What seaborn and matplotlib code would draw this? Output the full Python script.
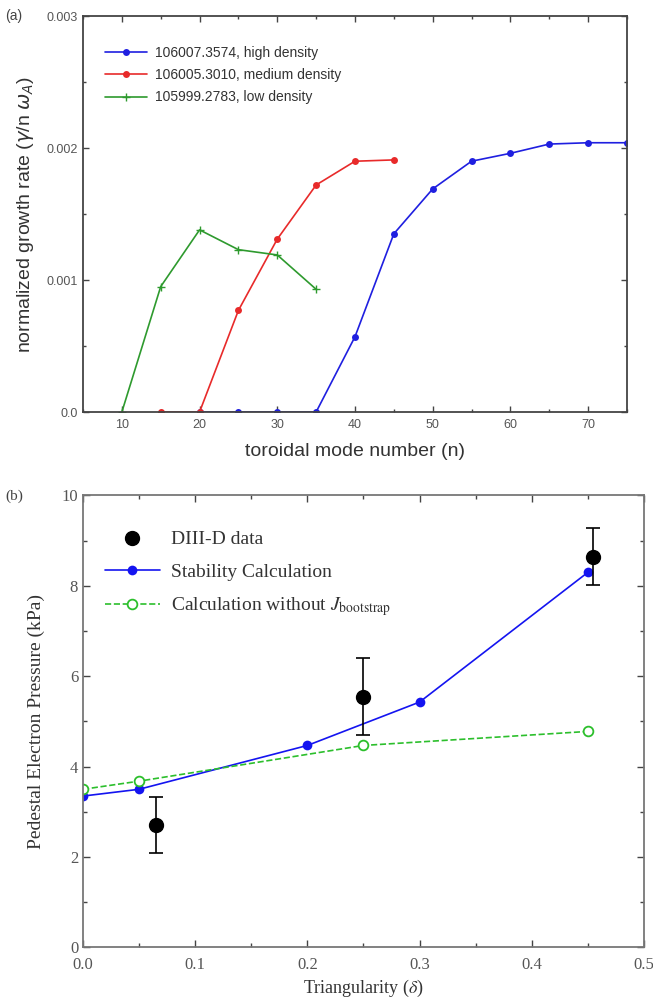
import numpy as np
import pandas as pd
import seaborn as sns
import matplotlib
matplotlib.use("Agg")
import matplotlib.pyplot as plt
from matplotlib.lines import Line2D
from matplotlib.ticker import MultipleLocator, FixedLocator, FixedFormatter, FormatStrFormatter

# ---- panel (a): growth rate vs toroidal mode number ----
n_high = [20, 25, 30, 35, 40, 45, 50, 55, 60, 65, 70, 75]
g_high = [0.0, 0.0, 0.0, 0.0, 0.00057, 0.00135, 0.00169, 0.00190, 0.00196, 0.00203, 0.00204, 0.00204]
n_med = [15, 20, 25, 30, 35, 40, 45]
g_med = [0.0, 0.0, 0.00077, 0.00131, 0.00172, 0.00190, 0.00191]
n_low = [10, 15, 20, 25, 30, 35]
g_low = [0.0, 0.00095, 0.00138, 0.00123, 0.00119, 0.00093]
labels_a = ["106007.3574, high density", "106005.3010, medium density", "105999.2783, low density"]
ytick_vals_a = [0.0, 0.001, 0.002, 0.003]
ytick_text_a = ["0.0", "0.001", "0.002", "0.003"]

# ---- panel (b): pedestal pressure vs triangularity ----
tri_data = [0.065, 0.25, 0.455]
p_data = [2.7, 5.55, 8.65]
p_err = [0.62, 0.85, 0.62]
tri_stab = [0.0, 0.05, 0.2, 0.3, 0.45]
p_stab = [3.35, 3.5, 4.47, 5.43, 8.3]
tri_noboot = [0.0, 0.05, 0.25, 0.45]
p_noboot = [3.5, 3.68, 4.47, 4.78]
labels_b = ["DIII-D data", "Stability Calculation", r"Calculation without $J_{\rm bootstrap}$"]

sns.set_theme(style="ticks")
plt.rcParams["font.family"] = ["Liberation Sans", "DejaVu Sans"]
plt.rcParams["mathtext.fontset"] = "dejavusans"

fig = plt.figure(figsize=(6.53, 10.02), dpi=100)

spine_col = "#444444"
tick_col = "#555555"

# ---------------- panel (a) ----------------
ax1 = fig.add_axes([0.1271, 0.5888, 0.8330, 0.3952])
blue_a, red_a, green_a = "#1f1fe0", "#e82a2a", "#2e9a2e"
df_h = pd.DataFrame({"n": n_high, "g": g_high})
df_m = pd.DataFrame({"n": n_med, "g": g_med})
df_l = pd.DataFrame({"n": n_low, "g": g_low})
sns.lineplot(data=df_h, x="n", y="g", ax=ax1, color=blue_a, marker="o", markersize=5,
             markeredgewidth=0, linewidth=1.2, label=labels_a[0])
sns.lineplot(data=df_m, x="n", y="g", ax=ax1, color=red_a, marker="o", markersize=5,
             markeredgewidth=0, linewidth=1.2, label=labels_a[1])
sns.lineplot(data=df_l, x="n", y="g", ax=ax1, color=green_a, marker="+", markersize=6,
             markeredgecolor=green_a, markeredgewidth=1.0, linewidth=1.2, label=labels_a[2])
ax1.set_xlim(5, 75)
ax1.set_ylim(0, 0.003)
ax1.xaxis.set_major_locator(MultipleLocator(10))
ax1.xaxis.set_minor_locator(MultipleLocator(5))
ax1.yaxis.set_major_locator(FixedLocator(ytick_vals_a))
ax1.yaxis.set_major_formatter(FixedFormatter(ytick_text_a))
ax1.yaxis.set_minor_locator(MultipleLocator(0.0005))
ax1.tick_params(which="both", direction="in", top=True, right=True, color=spine_col,
                labelsize=9, labelcolor=tick_col)
ax1.tick_params(which="major", length=4, width=1)
ax1.tick_params(which="minor", length=2.5, width=1)
ax1.tick_params(axis="x", pad=5)
for s in ax1.spines.values():
    s.set_color(spine_col)
    s.set_linewidth(1.3)
ax1.set_xlabel("toroidal mode number (n)", fontsize=14, color="#333333", labelpad=9)
ax1.set_ylabel(r"normalized growth rate ($\gamma$/n $\omega_A$)", fontsize=14,
               color="#333333", labelpad=8)
leg1 = ax1.legend(loc="upper left", bbox_to_anchor=(0.015, 0.96), frameon=False,
                  fontsize=10, handlelength=3.0, handletextpad=0.6, labelspacing=0.6,
                  borderaxespad=0.6)
for t in leg1.get_texts():
    t.set_color("#333333")
fig.text(0.008, 0.984, "(a)", fontsize=10, color="#444444", va="center", ha="left")

# ---------------- panel (b) ----------------
ax2 = fig.add_axes([0.1271, 0.0544, 0.8591, 0.4511])
serif = ["Liberation Serif", "DejaVu Serif"]
blue_b, green_b = "#1414f0", "#2cbf2c"
df_s = pd.DataFrame({"d": tri_stab, "p": p_stab})
df_n = pd.DataFrame({"d": tri_noboot, "p": p_noboot})
ax2.errorbar(tri_data, p_data, yerr=p_err, fmt="o", color="black", markersize=10,
             elinewidth=1.2, capsize=5, capthick=1.2, zorder=5)
sns.lineplot(data=df_s, x="d", y="p", ax=ax2, color=blue_b, marker="o", markersize=7,
             markeredgewidth=0, linewidth=1.2, label=labels_b[1])
sns.lineplot(data=df_n, x="d", y="p", ax=ax2, color=green_b, marker="o", markersize=7,
             markerfacecolor="white", markeredgecolor=green_b, markeredgewidth=1.3,
             linewidth=1.2, linestyle="--", dashes=(5, 3), label=labels_b[2])
ax2.set_xlim(0, 0.5)
ax2.set_ylim(0, 10)
ax2.xaxis.set_major_locator(MultipleLocator(0.1))
ax2.xaxis.set_minor_locator(MultipleLocator(0.05))
ax2.yaxis.set_major_locator(MultipleLocator(2))
ax2.yaxis.set_minor_locator(MultipleLocator(1))
ax2.xaxis.set_major_formatter(FormatStrFormatter("%.1f"))
ax2.tick_params(which="both", direction="in", top=True, right=True, color=spine_col,
                labelsize=12, labelcolor="#555555")
ax2.tick_params(which="major", length=5, width=1)
ax2.tick_params(which="minor", length=3, width=1)
ax2.tick_params(axis="x", pad=7)
for lab in ax2.get_xticklabels() + ax2.get_yticklabels():
    lab.set_family(serif)
for s in ax2.spines.values():
    s.set_color("#777777")
    s.set_linewidth(1.3)
xl = ax2.set_xlabel(r"Triangularity ($\delta$)", fontsize=13, family=serif,
                    color="#333333", labelpad=3)
xl.set_math_fontfamily("stix")
ax2.set_ylabel("Pedestal Electron Pressure (kPa)", fontsize=14, family=serif,
               color="#333333", labelpad=12)
h, l = ax2.get_legend_handles_labels()
data_handle = Line2D([], [], linestyle="none", marker="o", markersize=10, color="black")
handles_b = [data_handle] + [h[l.index(x)] for x in labels_b[1:]]
leg2 = ax2.legend(handles_b, labels_b, loc="upper left",
                  bbox_to_anchor=(0.005, 0.965), frameon=False, handlelength=2.8,
                  handletextpad=0.6, labelspacing=0.75, borderaxespad=0.6,
                  prop={"family": serif, "size": 14})
for t in leg2.get_texts():
    t.set_color("#333333")
    t.set_math_fontfamily("stix")
fig.text(0.008, 0.505, "(b)", fontsize=11, family=serif, color="#444444",
         va="center", ha="left")

fig.savefig("out.png", dpi=100)
